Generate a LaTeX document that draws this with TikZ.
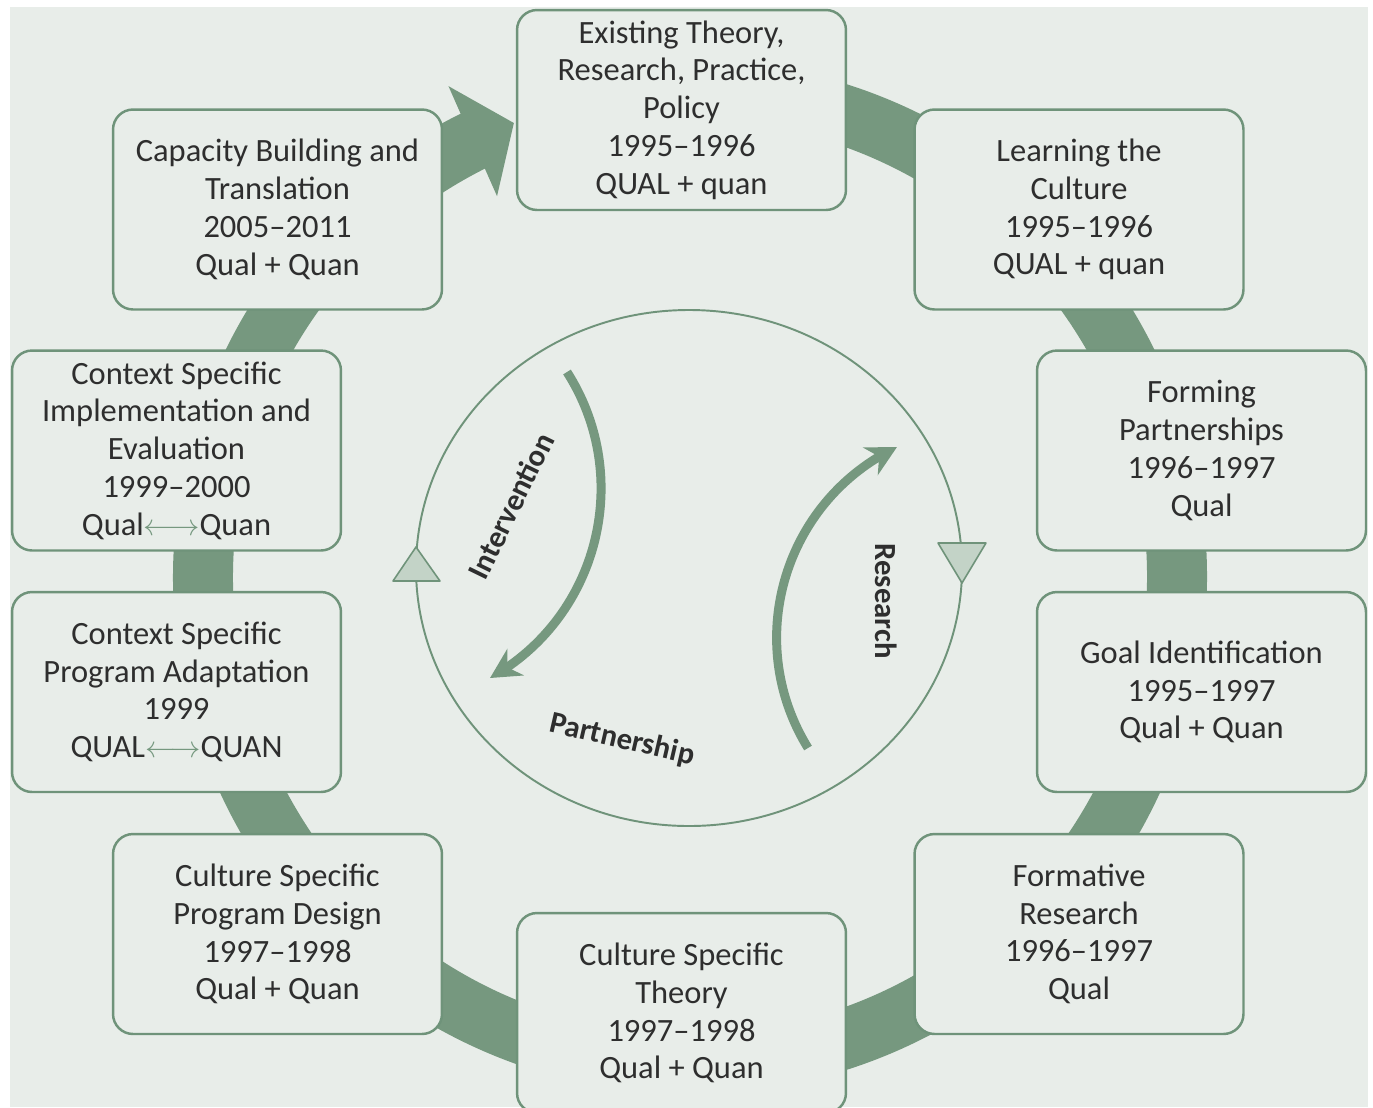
\documentclass[tikz,border=0pt]{standalone}
\usepackage{fontspec}
\setmainfont{Carlito}
\usetikzlibrary{arrows.meta,bending}

\definecolor{bgpanel}{HTML}{E8EDE9}
\definecolor{ringgreen}{HTML}{76987F}
\definecolor{boxline}{HTML}{6F937A}
\definecolor{trifill}{HTML}{C3D3C7}
\definecolor{inktext}{HTML}{2E2E2E}

\newcommand{\biarrow}{\textcolor{ringgreen}{$\longleftrightarrow$}}

\tikzset{
  stage/.style={draw=boxline, line width=1.4pt, fill=bgpanel, rounded corners=0.4cm,
    minimum width=6.58cm, minimum height=4cm, align=center, text=inktext,
    font=\fontsize{18.5}{21.5}\selectfont, inner sep=0pt},
  ringband/.style={draw=ringgreen, line width=1.2cm, -{Triangle[width=2.36cm,length=0.9cm]}},
  loopline/.style={draw=boxline, line width=1.1pt},
  looparrow/.style={draw=ringgreen, line width=0.18cm, -{Stealth[length=0.6cm,width=0.62cm]}},
  looplabel/.style={font=\fontsize{17.5}{20}\selectfont\bfseries, text=inktext, inner sep=0pt},
  marker/.style={fill=trifill, draw=boxline, line width=0.9pt, line join=round}
}

\begin{document}
\begin{tikzpicture}[x=0.02cm, y=-0.02cm]
		\useasboundingbox (0,0) rectangle (1373,1107);
		\fill[white] (0,0) rectangle (1373,1107);
		\fill[bgpanel] (10,7) rectangle (1368,1107);
		\begin{scope}
		\clip (10,7) rectangle (1368,1107);
		%
		% outer cycle
		\draw[ringband] (690,577) ++(-85:487) arc[start angle=-85, end angle=248.8, radius=487];
		%
		\node[stage] (exist)   at (681.5,110)   {Existing Theory,\\Research, Practice,\\Policy\\1995–1996\\QUAL + quan};
		\node[stage] (learn)   at (1079,209.5)  {Learning the\\Culture\\1995–1996\\QUAL + quan};
		\node[stage] (form)    at (1201.5,450.5) {Forming\\Partnerships\\1996–1997\\Qual};
		\node[stage] (goal)    at (1201.5,692)  {Goal Identification\\1995–1997\\Qual + Quan};
		\node[stage] (formres) at (1079,934)    {Formative\\Research\\1996–1997\\Qual};
		\node[stage] (theory)  at (681.5,1013)  {Culture Specific\\Theory\\1997–1998\\Qual + Quan};
		\node[stage] (design)  at (277.5,934)   {Culture Specific\\Program Design\\1997–1998\\Qual + Quan};
		\node[stage] (adapt)   at (176.5,692)   {Context Specific\\Program Adaptation\\1999\\QUAL\biarrow QUAN};
		\node[stage] (impl)    at (176.5,450.5) {Context Specific\\Implementation and\\Evaluation\\1999–2000\\Qual\biarrow Quan};
		\node[stage] (cap)     at (277.5,209.5) {Capacity Building and\\Translation\\2005–2011\\Qual + Quan};
		%
		% inner loop
		\draw[loopline] (689,568) ellipse [x radius=273, y radius=258];
		\draw[marker] (416,547) -- (393,581) -- (440,581) -- cycle;
		\draw[marker] (962,583) -- (938,543) -- (986,543) -- cycle;
		%
		\coordinate (intStart) at (567,372);
		\coordinate (intEnd) at (490,678);
		\draw[looparrow] (intStart) .. controls (634,477) and (599,617) .. (intEnd);
		\coordinate (resStart) at (808,748);
		\coordinate (resEnd) at (897,447);
		\draw[looparrow] (resStart) .. controls (742,641) and (784,501) .. (resEnd);
		%
		\node[looplabel, rotate=64]  (intlbl)  at (511,506) {Intervention};
		\node[looplabel, rotate=-90] (reslbl)  at (886,601) {Research};
		\node[looplabel, rotate=-13] (partlbl) at (622,740) {Partnership};
		\end{scope}
	\end{tikzpicture}
\end{document}
